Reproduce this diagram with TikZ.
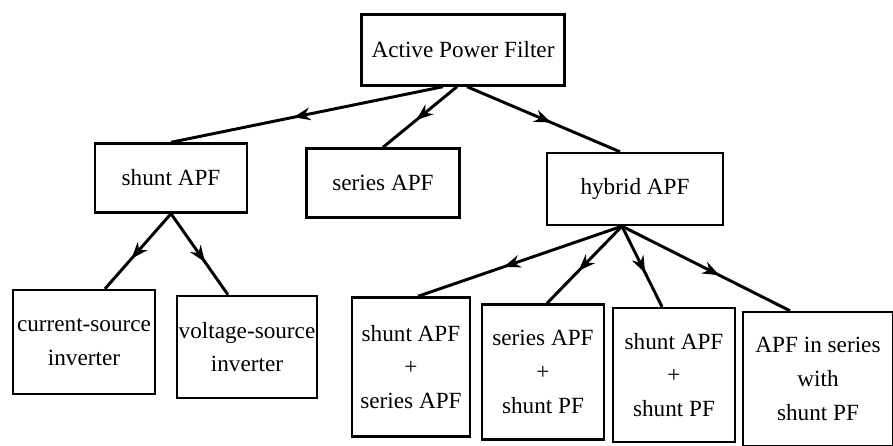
\documentclass[tikz,border=0pt]{standalone}
\usepackage{fontspec}
\setmainfont{Liberation Serif}
\usetikzlibrary{arrows.meta,decorations.markings}
\tikzset{box node/.style={draw,line width=1.7pt,inner sep=0pt,align=center,font=\fontsize{16.5}{24}\selectfont},
link/.style={line width=2.1pt,postaction={decorate},decoration={markings,mark=at position #1 with {\arrow{Stealth[length=12pt,width=9pt]}}}},
link/.default=0.55,}

\begin{document}
\begin{tikzpicture}[x=0.025cm,y=-0.025cm]
    \useasboundingbox (0,0) rectangle (893,446);

    % top level
    \node[box node,minimum width=5.075cm,minimum height=1.775cm] (root) at (463,50) {Active Power Filter};

    % second level
    \node[box node,minimum width=3.8cm,minimum height=1.725cm] (shunt) at (171,178) {shunt APF};
    \node[box node,minimum width=3.825cm,minimum height=1.725cm] (series) at (383,183) {series APF};
    \node[box node,minimum width=4.4cm,minimum height=1.8cm] (hybrid) at (635,189) {hybrid APF};

    % third level
    \node[box node,minimum width=3.55cm,minimum height=2.6cm] (csi) at (84,342) {current-source\\inverter};
    \node[box node,minimum width=3.5cm,minimum height=2.55cm] (vsi) at (247,347) {voltage-source\\inverter};
    \node[box node,minimum width=2.95cm,minimum height=3.475cm] (hyb1) at (411,367) {shunt APF\\+\\series APF};
    \node[box node,minimum width=3.05cm,minimum height=3.375cm] (hyb2) at (543,372) {series APF\\+\\shunt PF};
    \node[box node,minimum width=3.05cm,minimum height=3.35cm] (hyb3) at (674,375) {shunt APF\\+\\shunt PF};
    \node[box node,minimum width=3.75cm,minimum height=3.35cm] (hyb4) at (818,379) {APF in series\\with\\shunt PF};

    \draw[link] ([xshift=-0.5cm]root.south) -- (shunt.north);
    \draw[link] ([xshift=-0.15cm]root.south) -- (series.north);
    \draw[link] ([xshift=0.1cm]root.south) -- ([xshift=-0.375cm]hybrid.north);

    \draw[link=0.6] (shunt.south) -- ([xshift=0.525cm]csi.north);
    \draw[link=0.6] (shunt.south) -- ([xshift=-0.475cm]vsi.north);

    \draw[link=0.58] ([xshift=-0.325cm]hybrid.south) -- ([xshift=0.175cm]hyb1.north);
    \draw[link=0.58] ([xshift=-0.325cm]hybrid.south) -- ([xshift=0.1cm]hyb2.north);
    \draw[link=0.58] ([xshift=-0.325cm]hybrid.south) -- ([xshift=-0.3cm]hyb3.north);
    \draw[link=0.58] ([xshift=-0.325cm]hybrid.south) -- ([xshift=-0.7cm]hyb4.north);
\end{tikzpicture}
\end{document}
